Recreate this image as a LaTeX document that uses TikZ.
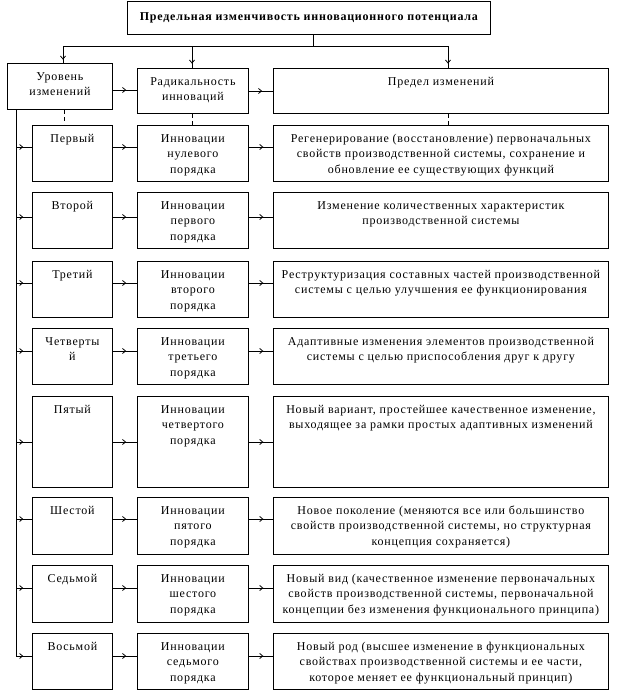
\documentclass[tikz,border=0pt]{standalone}
\usepackage{fontspec}
\setmainfont[LetterSpace=6.5]{Liberation Serif}
\usetikzlibrary{arrows.meta,decorations.markings}
\newcommand{\cel}[3]{\parbox[c][#2][t]{#1}{\vspace*{6pt}\centering\strut #3\par}}
\tikzset{
  ln/.style={line width=0.8pt},
  cellbox/.style={draw, line width=0.8pt, inner sep=0pt, anchor=north west},
  conn/.style={line width=0.8pt, postaction={decorate},
    decoration={markings, mark=at position #1 with {\arrow{Straight Barb[length=3pt,width=5pt,line width=0.8pt]}}}},
  dsh/.style={line width=0.8pt, dash pattern=on 4pt off 3.5pt}
}
\begin{document}
\begin{tikzpicture}[x=1pt,y=-1pt,font=\fontsize{12pt}{15.5pt}\selectfont]
\useasboundingbox (0,0) rectangle (617,691);
\fill[white] (0,0) rectangle (617,691);
% title
\node[draw, line width=0.8pt, inner sep=0pt, minimum width=363pt, minimum height=33pt, anchor=north west] (title) at (127,1) {\fontsize{12pt}{14pt}\selectfont\bfseries Предельная изменчивость инновационного потенциала};
% header boxes
\node[cellbox] (A) at (7,63) {\cel{105pt}{46pt}{Уровень\\изменений}};
\node[cellbox] (B) at (137,68) {\cel{111pt}{45pt}{Радикальность\\инноваций}};
\node[cellbox] (C) at (273,68) {\cel{335pt}{45pt}{Предел изменений}};
% branch
\coordinate (tb) at (313,46);
\coordinate (bA) at (63,46);
\coordinate (bB) at (192,46);
\coordinate (bC) at (448,46);
\draw[ln] (title.south -| tb) -- (tb);
\draw[ln] (bA) -- (bC);
\draw[conn=0.8] (bA) -- (bA |- A.north);
\draw[conn=0.8] (bB) -- (bB |- B.north);
\draw[conn=0.8] (bC) -- (bC |- C.north);
\coordinate (h1) at (0,90);
\coordinate (h2) at (0,91);
\draw[conn=0.55] (A.east |- h1) -- (B.west |- h1);
\draw[conn=0.55] (B.east |- h2) -- (C.west |- h2);
\coordinate (lx) at (16,0);
\coordinate (dA) at (64,0);
\coordinate (dB) at (192,0);
\coordinate (dC) at (448,0);
\newcommand{\drow}[7]{%
 \node[cellbox] (a#1) at (32,#2) {\cel{80pt}{#3pt}{#5}};
 \node[cellbox] (b#1) at (137,#2) {\cel{111pt}{#3pt}{#6}};
 \node[cellbox] (c#1) at (273,#2) {\cel{335pt}{#3pt}{#7}};
 \coordinate (y#1) at (0,#2+#4);
 \draw[conn=0.45] (lx |- y#1) -- (a#1.west |- y#1);
 \draw[conn=0.55] (a#1.east |- y#1) -- (b#1.west |- y#1);
 \draw[conn=0.6] (b#1.east |- y#1) -- (c#1.west |- y#1);
}
\drow{1}{125}{56}{22}{Первый}{Инновации\\нулевого\\порядка}{Регенерирование (восстановление) первоначальных\\свойств производственной системы, сохранение и\\обновление ее существующих функций}
\drow{2}{192}{56}{25}{Второй}{Инновации\\первого\\порядка}{Изменение количественных характеристик\\производственной системы}
\drow{3}{261}{56}{22}{Третий}{Инновации\\второго\\порядка}{Реструктуризация составных частей производственной\\системы с целью улучшения ее функционирования}
\drow{4}{328}{56}{23}{Четверты\\й}{Инновации\\третьего\\порядка}{Адаптивные изменения элементов производственной\\системы с целью приспособления друг к другу}
\drow{5}{396}{91}{46}{Пятый}{Инновации\\четвертого\\порядка}{Новый вариант, простейшее качественное изменение,\\выходящее за рамки простых адаптивных изменений}
\drow{6}{497}{57}{22}{Шестой}{Инновации\\пятого\\порядка}{Новое поколение (меняются все или большинство\\свойств производственной системы, но структурная\\концепция сохраняется)}
\drow{7}{565}{57}{23}{Седьмой}{Инновации\\шестого\\порядка}{Новый вид (качественное изменение первоначальных\\свойств производственной системы, первоначальной\\концепции без изменения функционального принципа)}
\drow{8}{633}{56}{23}{Восьмой}{Инновации\\седьмого\\порядка}{Новый род (высшее изменение в функциональных\\свойствах производственной системы и ее части,\\которое меняет ее функциональный принцип)}
% left spine
\draw[ln] (A.south -| lx) -- (lx |- y8);
% dashed links
\draw[dsh] (A.south -| dA) -- (a1.north -| dA);
\draw[dsh] (B.south -| dB) -- (b1.north -| dB);
\draw[dsh] (C.south -| dC) -- (c1.north -| dC);
\end{tikzpicture}
\end{document}
